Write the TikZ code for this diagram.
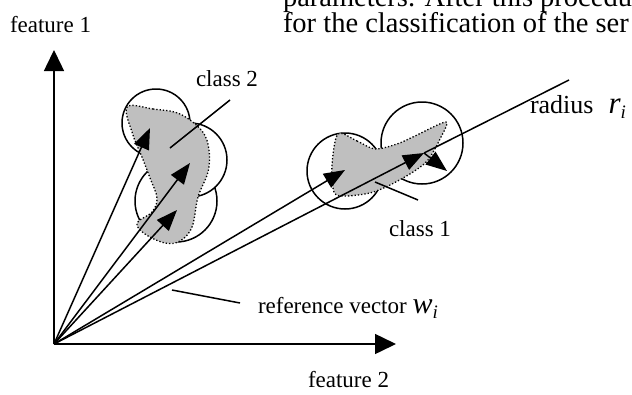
\documentclass[tikz,border=0pt]{standalone}
\usepackage{fontspec}
\setmainfont{Liberation Serif}
\usetikzlibrary{arrows.meta}
\begin{document}
\begin{tikzpicture}[x=1pt,y=-1pt,
  every node/.style={inner sep=0pt, outer sep=0pt},
  lbl/.style={font=\fontsize{23}{27}\selectfont},
  big/.style={font=\fontsize{28.5}{27}\selectfont},
  ln/.style={line width=1.5pt},
  vec/.style={line width=1.5pt, -{Triangle[length=21pt,width=16pt]}},
  axis/.style={line width=1.5pt, -{Triangle[length=21pt,width=20pt]}},
  ball/.style={circle, draw, line width=1.5pt, fill=white},
  blob/.style={fill=black!25, draw=black, dotted, line width=1.3pt},
]
\useasboundingbox (0,0) rectangle (632,394);
\clip (0,0) rectangle (632,394);

% top text (clipped as in the reference)
\node[big, anchor=base west] (p1) at (283,6) {parameters. After this procedu};
\node[big, anchor=base west] (p2) at (283,32) {for the classification of the ser};

% axis labels
\node[lbl, anchor=base west] (f1) at (10,32) {feature 1};
\node[lbl, anchor=base west] (f2) at (308,387) {feature 2};

% coordinates
\coordinate (o) at (54,344);
\coordinate (yend) at (54,50);
\coordinate (xend) at (396,344);

% class 2 balls
\node[ball, minimum size=82pt] (b3) at (176,201) {};
\node[ball, minimum size=74pt] (b2) at (190,160) {};
\node[ball, minimum size=68pt] (b1) at (156,123) {};
% class 1 balls
\node[ball, minimum size=76pt] (bA) at (345,171) {};
\node[ball, minimum size=82pt] (bB) at (422,143) {};

% blobs
\path[blob] plot[smooth cycle, tension=0.6] coordinates {
  (127,107) (153,109) (180,114) (202,131) (209,150) (208,172) (198,197)
  (192,227) (180,241) (165,243) (145,234) (137,223) (152,212) (157,198)
  (150,178) (142,157) (133,135)};
\path[blob] plot[smooth cycle, tension=0.5] coordinates {
  (338,134) (357,141) (375,149) (397,144) (415,136) (446,122) (440,139)
  (428,160) (413,172) (390,185) (370,193) (345,196) (334,192) (332,165)};

% tips
\coordinate (t1) at (150,128);
\coordinate (t2) at (190,163);
\coordinate (t3) at (177,210);
\coordinate (tA) at (345,170);
\coordinate (tB) at (424,153);
\coordinate (rend) at (569,80);
\coordinate (rtip) at (447,171);

% axes
\draw[axis] (o) -- (yend);
\draw[axis] (o) -- (xend);

% vectors
\draw[vec] (o) -- (t1);
\draw[vec] (o) -- (t2);
\draw[vec] (o) -- (t3);
\draw[vec] (o) -- (tA);
\draw[vec] (o) -- (tB);
\draw[ln] (tB) -- (rend);
\draw[vec] (tB) -- (rtip);

% pointer lines and labels
\coordinate (c2a) at (230,100);
\coordinate (c2b) at (170,148);
\draw[ln] (c2a) -- (c2b);
\node[lbl, anchor=base] (cl2) at (227,86) {class 2};

\coordinate (c1a) at (375,182);
\coordinate (c1b) at (418,200);
\draw[ln] (c1a) -- (c1b);
\node[lbl, anchor=base] (cl1) at (420,236) {class 1};

\coordinate (rva) at (172,290);
\coordinate (rvb) at (240,303);
\draw[ln] (rva) -- (rvb);
\node[lbl, anchor=base west] (rv) at (258,313) {reference vector\hspace{6pt}{\fontsize{30}{30}\selectfont\itshape w}\raisebox{-5pt}{\fontsize{19}{20}\selectfont\itshape i}};

\node[font=\fontsize{26}{28}\selectfont, anchor=base west] (rad) at (530,113) {radius\hspace{15pt}{\fontsize{31}{30}\selectfont\itshape r}\raisebox{-5pt}{\fontsize{19}{20}\selectfont\itshape i}};
\end{tikzpicture}
\end{document}
